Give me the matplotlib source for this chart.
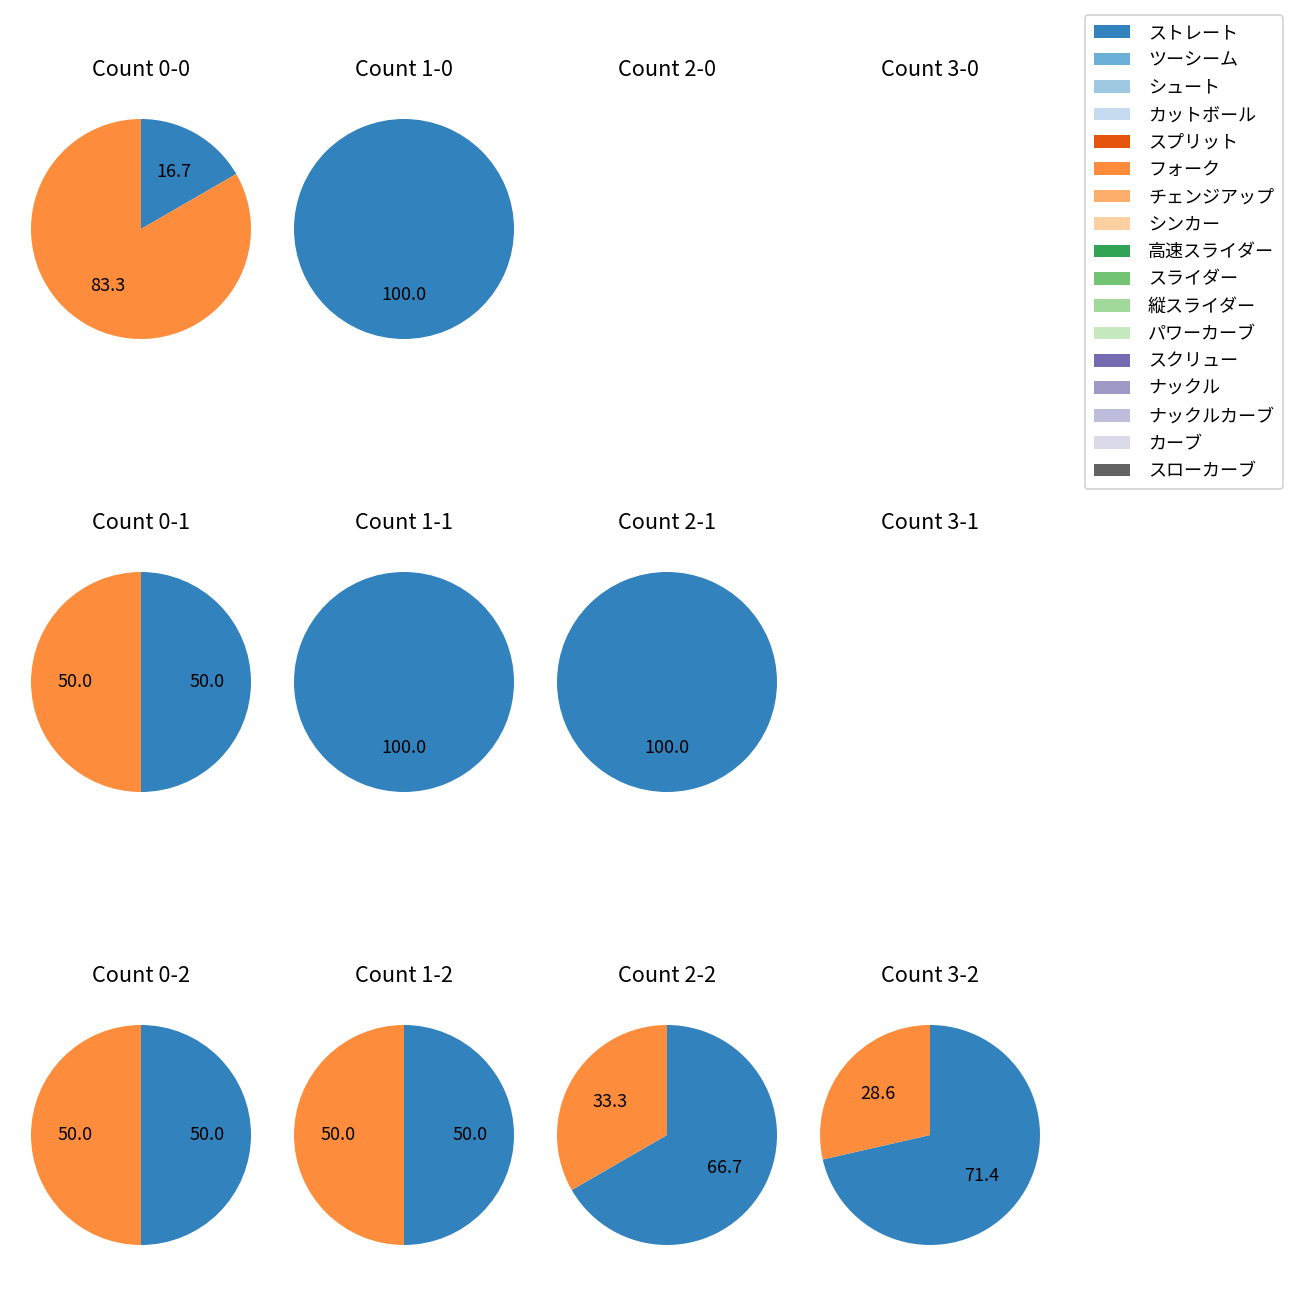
import matplotlib
matplotlib.use("Agg")
import matplotlib.pyplot as plt
from matplotlib.patches import Patch

plt.rcParams['font.family'] = ['Noto Sans CJK JP', 'DejaVu Sans']

pitch_types = ["ストレート", "ツーシーム", "シュート", "カットボール", "スプリット", "フォーク",
               "チェンジアップ", "シンカー", "高速スライダー", "スライダー", "縦スライダー",
               "パワーカーブ", "スクリュー", "ナックル", "ナックルカーブ", "カーブ", "スローカーブ"]
colors = ["#3182bd", "#6baed6", "#9ecae1", "#c6dbef", "#e6550d", "#fd8d3c", "#fdae6b", "#fdd0a2",
          "#31a354", "#74c476", "#a1d99b", "#c7e9c0", "#756bb1", "#9e9ac8", "#bcbddc", "#dadaeb",
          "#636363"]

count_titles = [["Count 0-0", "Count 1-0", "Count 2-0", "Count 3-0"],
                ["Count 0-1", "Count 1-1", "Count 2-1", "Count 3-1"],
                ["Count 0-2", "Count 1-2", "Count 2-2", "Count 3-2"]]
# pitch counts: ストレート, フォーク
straight = [[1, 2, 0, 0],
            [1, 1, 1, 0],
            [1, 1, 2, 5]]
fork = [[5, 0, 0, 0],
        [1, 0, 0, 0],
        [1, 1, 1, 2]]

W, H = 1300, 1300
fig = plt.figure(figsize=(10, 10), dpi=130)
col_cx = [141, 404, 667, 930]
row_cy = [229, 682, 1135]
size = 275

for r in range(3):
    for c in range(4):
        cx, cy = col_cx[c], row_cy[r]
        ax = fig.add_axes([(cx - size / 2) / W, 1 - (cy + size / 2) / H, size / W, size / H])
        vals = [straight[r][c], fork[r][c]]
        cols = [colors[0], colors[5]]
        v2 = [v for v in vals if v > 0]
        c2 = [cc for v, cc in zip(vals, cols) if v > 0]
        if v2:
            ax.pie(v2, colors=c2, autopct='%.1f', startangle=90, counterclock=False,
                   textprops={'fontsize': 10})
        else:
            ax.set_xlim(-1.25, 1.25)
            ax.set_ylim(-1.25, 1.25)
            ax.axis('off')
        ax.set_aspect('equal')
        ax.set_title(count_titles[r][c], fontsize=12, pad=8.5)

handles = [Patch(facecolor=cc, label=l) for l, cc in zip(pitch_types, colors)]
fig.legend(handles=handles, loc='upper right', bbox_to_anchor=(1292 / W, 1 - 6 / H),
           fontsize=10, labelspacing=0.52, handletextpad=1.0, borderpad=0.5)

fig.savefig("out.png", dpi=130)
